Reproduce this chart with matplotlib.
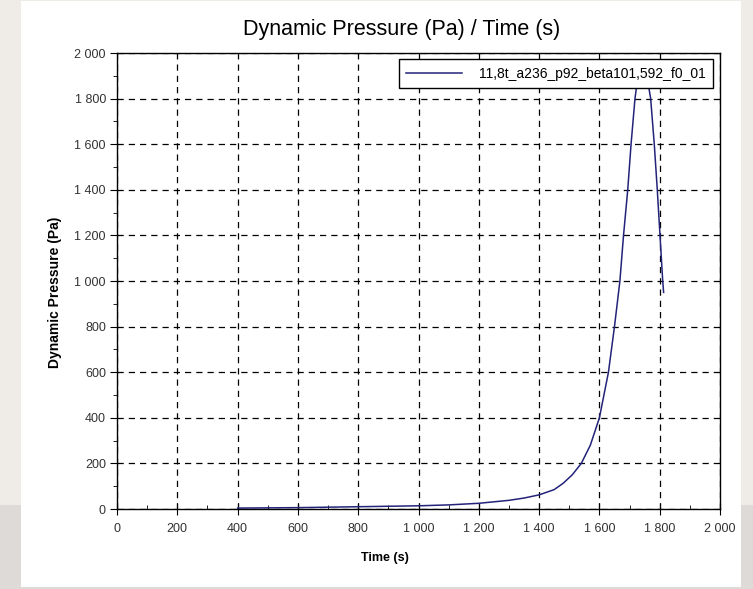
import matplotlib.pyplot as plt
import numpy as np
from matplotlib.patches import Rectangle
from matplotlib.ticker import FuncFormatter, MultipleLocator

plt.rcParams["font.family"] = ["Liberation Sans", "DejaVu Sans"]

# dynamic pressure history of the run
time_s = [400, 500, 600, 700, 800, 900, 1000, 1100, 1200, 1300, 1350, 1400,
          1450, 1480, 1510, 1540, 1570, 1600, 1630, 1650, 1668, 1680, 1694,
          1705, 1718, 1730, 1745, 1760, 1770, 1782, 1792, 1801, 1810, 1813]
pressure_pa = [4, 5, 6, 8, 10, 12, 14, 18, 25, 38, 48, 62,
               85, 113, 150, 200, 280, 400, 600, 800, 1000, 1200, 1400,
               1600, 1800, 1920, 1960, 1880, 1800, 1600, 1400, 1200, 1000, 950]
run_name = "11,8t_a236_p92_beta101,592_f0_01"


def thousands(value, _pos):
    return f"{int(round(value)):,}".replace(",", " ")


W, H = 753, 589
fig = plt.figure(figsize=(W / 100, H / 100), dpi=100, facecolor="#efebe7")

# grey surround with a darker lower band, white sheet on top
fig.patches.append(Rectangle((0, 0), 1, 1 - 505 / H, transform=fig.transFigure,
                             facecolor="#dedad8", edgecolor="none", zorder=-3))
fig.patches.append(Rectangle((21 / W, 1 - 587 / H), 720 / W, 586 / H,
                             transform=fig.transFigure, facecolor="white",
                             edgecolor="none", zorder=-2))

ax = fig.add_axes([117 / W, 1 - 509 / H, 603 / W, 456 / H])
ax.plot(time_s, pressure_pa, color="#23237a", linewidth=1.1, label=run_name)

ax.set_xlim(0, 2000)
ax.set_ylim(0, 2000)
ax.xaxis.set_major_locator(MultipleLocator(200))
ax.yaxis.set_major_locator(MultipleLocator(200))
ax.xaxis.set_minor_locator(MultipleLocator(100))
ax.yaxis.set_minor_locator(MultipleLocator(100))
ax.xaxis.set_major_formatter(FuncFormatter(thousands))
ax.yaxis.set_major_formatter(FuncFormatter(thousands))

ax.grid(which="major", color="black", linestyle=(0, (5, 4)), linewidth=0.9)
ax.tick_params(axis="y", which="major", direction="out", length=5, labelsize=9,
               labelcolor="#333333", pad=3)
ax.tick_params(axis="y", which="minor", direction="out", length=3)
ax.tick_params(axis="x", which="major", direction="inout", length=8, labelsize=9,
               labelcolor="#333333", pad=6)
ax.tick_params(axis="x", which="minor", direction="in", length=3)
for side in ax.spines.values():
    side.set_linewidth(1.0)
    side.set_color("black")

leg = ax.legend(loc="upper right", bbox_to_anchor=(713 / W, 1 - 59 / H),
                bbox_transform=fig.transFigure, borderaxespad=0, fancybox=False,
                framealpha=1, edgecolor="black", fontsize=10, handlelength=4.0,
                borderpad=0.55, handletextpad=1.2)
leg.get_frame().set_linewidth(1.0)

fig.text(402 / W, 1 - 30 / H, "Dynamic Pressure (Pa) / Time (s)",
         ha="center", va="center", fontsize=15.5)
fig.text(385 / W, 1 - 558 / H, "Time (s)", ha="center", va="center",
         fontsize=9, fontweight="bold")
fig.text(55 / W, 1 - 292 / H, "Dynamic Pressure (Pa)", ha="center", va="center",
         rotation=90, fontsize=10, fontweight="bold")

fig.savefig("out.png", dpi=100, facecolor=fig.get_facecolor())
